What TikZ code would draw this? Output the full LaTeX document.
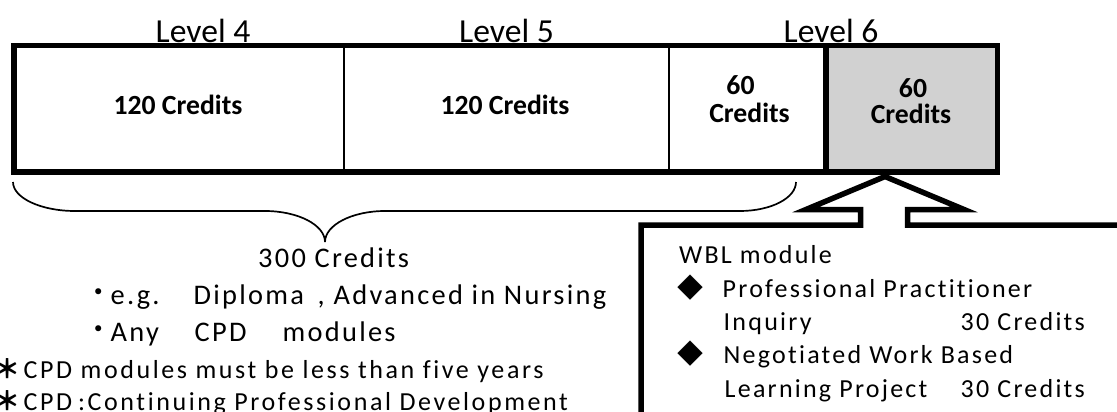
\documentclass[tikz,border=0pt]{standalone}
\usepackage{fontspec}
\setmainfont{Carlito}
% tracked face for the notes and the WBL panel
\newfontfamily\notefont{Carlito}[LetterSpace=8.0,Ligatures=NoCommon]
% full-width punctuation and bullets
\newfontfamily\cjkfont{Noto Sans CJK JP}
% put a text segment at a fixed offset from the node origin
\newcommand\placeat[2]{\makebox[0pt][l]{\hspace*{#1pt}#2}}
\newcommand\centreat[2]{\makebox[0pt][l]{\hspace*{#1pt}\makebox[0pt][c]{#2}}}

\begin{document}
\begin{tikzpicture}[x=1pt,y=-1pt,
  lvl/.style={font=\fontsize{33.6}{36}\selectfont, anchor=base, inner sep=0pt},
  cred/.style={font=\bfseries\fontsize{27.7}{27}\selectfont, anchor=base, inner sep=0pt},
  bignote/.style={font=\notefont\fontsize{28.4}{37}\selectfont, anchor=base west, inner sep=0pt},
  smallnote/.style={font=\notefont\fontsize{26}{33}\selectfont, anchor=base west, inner sep=0pt},
  widenote/.style={smallnote, font=\notefont\fontsize{26}{33}\selectfont\addfontfeature{LetterSpace=10.0}},
  panelnote/.style={smallnote, font=\notefont\fontsize{26}{33}\selectfont\addfontfeature{LetterSpace=8.6}},
  heavyline/.style={line width=5.5pt, line join=miter},
  thinline/.style={line width=2.5pt},
  braceline/.style={line width=1.7pt}
]
\useasboundingbox (0,0) rectangle (1117,412);

% credit bar: shaded WBL cell, dividers, heavy frame
\fill[black!18] (826,46) rectangle (997.5,172);
\draw[thinline] (344,46) -- (344,172) (669,46) -- (669,172);
\draw[heavyline] (14,45.5) rectangle (997.5,172);
\draw[heavyline] (826,45.5) -- (826,172);

% level headings
\node[lvl] (lvlfour) at (203,42.5) {Level 4};
\node[lvl] (lvlfive) at (506.5,42.5) {Level 5};
\node[lvl] (lvlsix)  at (831,42.5) {Level 6};

% credits per cell
\node[cred] (cellone) at (178,114) {120 Credits};
\node[cred] (celltwo) at (505,114) {120 Credits};
\node[cred] (cellthreetop) at (740.5,95) {60};
\node[cred] (cellthreebot) at (749.5,122) {Credits};
\node[cred] (cellfourtop) at (913,97) {60};
\node[cred] (cellfourbot) at (911,124) {Credits};

% brace under the first 300 credits
\draw[braceline] (13,182) .. controls (13,198) and (41,211) .. (75,211)
  -- (265,211) .. controls (298,211) and (325,225) .. (325,242)
  .. controls (325,225) and (352,211) .. (385,211)
  -- (740,211) .. controls (771,211) and (796,198) .. (796,182);

% notes under the brace
\node[bignote] (total) at (258,267) {300 Credits};
\node[bignote] (egline) at (0,304) {\centreat{98.5}{\cjkfont\raisebox{1.5pt}{・}}\placeat{110}{e.g.}\placeat{193}{Diploma}\placeat{317}{,}\placeat{333}{Advanced in Nursing}};
\node[bignote] (anyline) at (0,341) {\centreat{98.5}{\cjkfont\raisebox{1.5pt}{・}}\placeat{110}{Any}\placeat{194}{CPD}\placeat{282}{modules}};
\node[widenote] (ageline) at (0,378) {\centreat{7}{\cjkfont\bfseries ＊}\placeat{23}{CPD modules must be less than five years}};
\node[widenote] (defline) at (0,410) {\centreat{7}{\cjkfont\bfseries ＊}\placeat{23}{CPD}\centreat{81}{:}\placeat{87}{Continuing Professional Development}};

% callout panel pointing at the WBL cell
\coordinate (apex) at (885,176.5);
\draw[heavyline] (641,440) -- (641,225) -- (860.5,225) -- (860.5,209.5) -- (806,209.5)
  -- (apex) -- (964,209.5) -- (907.5,209.5) -- (907.5,225) -- (1140,225);

\node[panelnote] (wbltitle) at (679,263) {WBL module};
\node[panelnote] (itemone) at (680,297) {\centreat{10}{\cjkfont ◆}\placeat{42}{Professional Practitioner}};
\node[panelnote] (itemonecr) at (680,330) {\placeat{43}{Inquiry}\placeat{280}{30 Credits}};
\node[panelnote] (itemtwo) at (680,363) {\centreat{10}{\cjkfont ◆}\placeat{43}{Negotiated Work Based}};
\node[panelnote] (itemtwocr) at (680,397) {\placeat{44}{Learning Project}\placeat{280}{30 Credits}};
\end{tikzpicture}
\end{document}
